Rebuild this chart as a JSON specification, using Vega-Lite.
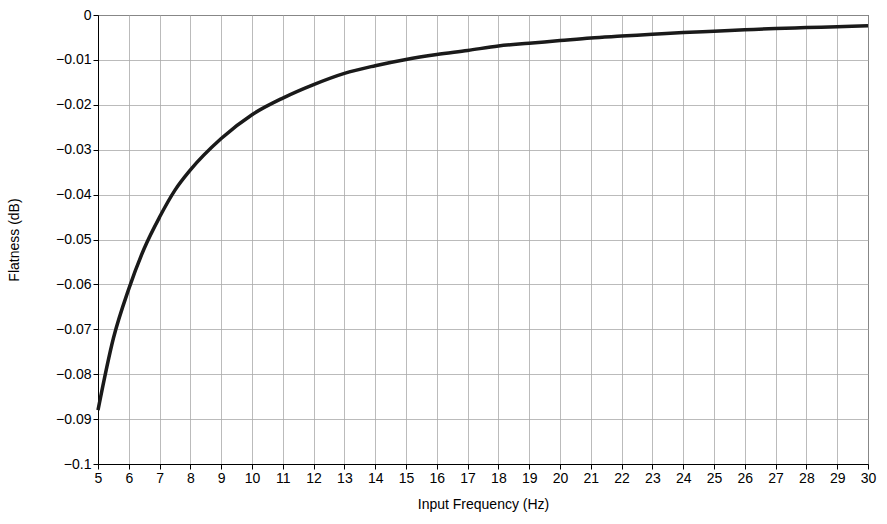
{
  "$schema": "https://vega.github.io/schema/vega-lite/v6.json",
  "width": 770,
  "height": 449,
  "padding": {"left": 7, "top": 8, "right": 5, "bottom": 5},
  "background": "white",
  "config": {
    "font": "Liberation Sans",
    "view": {"stroke": "black", "strokeWidth": 1},
    "axis": {
      "gridColor": "#aaaaaa", "gridWidth": 0.8, "gridOpacity": 1,
      "domainColor": "black", "tickColor": "black",
      "labelFontSize": 14, "labelColor": "black",
      "titleFontSize": 14, "titleFontWeight": "normal", "titleColor": "black"
    }
  },
  "data": {
    "values": [
      {"f": 5, "v": -0.088}, {"f": 5.5, "v": -0.072}, {"f": 6, "v": -0.061},
      {"f": 6.5, "v": -0.052}, {"f": 7, "v": -0.045}, {"f": 7.5, "v": -0.039},
      {"f": 8, "v": -0.0345}, {"f": 9, "v": -0.0275}, {"f": 10, "v": -0.0222},
      {"f": 11, "v": -0.0185}, {"f": 12, "v": -0.0155}, {"f": 13, "v": -0.013},
      {"f": 14, "v": -0.0113}, {"f": 15, "v": -0.0099}, {"f": 16, "v": -0.0088},
      {"f": 17, "v": -0.0079}, {"f": 18, "v": -0.0069}, {"f": 19, "v": -0.0063},
      {"f": 20, "v": -0.0057}, {"f": 21, "v": -0.0051}, {"f": 22, "v": -0.0047},
      {"f": 23, "v": -0.0043}, {"f": 24, "v": -0.0039}, {"f": 25, "v": -0.0036},
      {"f": 26, "v": -0.0033}, {"f": 27, "v": -0.003}, {"f": 28, "v": -0.0028},
      {"f": 29, "v": -0.0026}, {"f": 30, "v": -0.0024}
    ]
  },
  "mark": {"type": "line", "color": "#1a1a1a", "strokeWidth": 3.5, "interpolate": "monotone"},
  "encoding": {
    "x": {
      "field": "f", "type": "quantitative", "title": "Input Frequency (Hz)",
      "scale": {"domain": [5, 30], "nice": false},
      "axis": {"values": [5,6,7,8,9,10,11,12,13,14,15,16,17,18,19,20,21,22,23,24,25,26,27,28,29,30], "format": "d", "labelFlush": false, "titlePadding": 12}
    },
    "y": {
      "field": "v", "type": "quantitative", "title": "Flatness (dB)",
      "scale": {"domain": [-0.1, 0], "nice": false},
      "axis": {"values": [-0.1,-0.09,-0.08,-0.07,-0.06,-0.05,-0.04,-0.03,-0.02,-0.01,0], "format": "~g", "labelFlush": false, "titlePadding": 34}
    }
  }
}
